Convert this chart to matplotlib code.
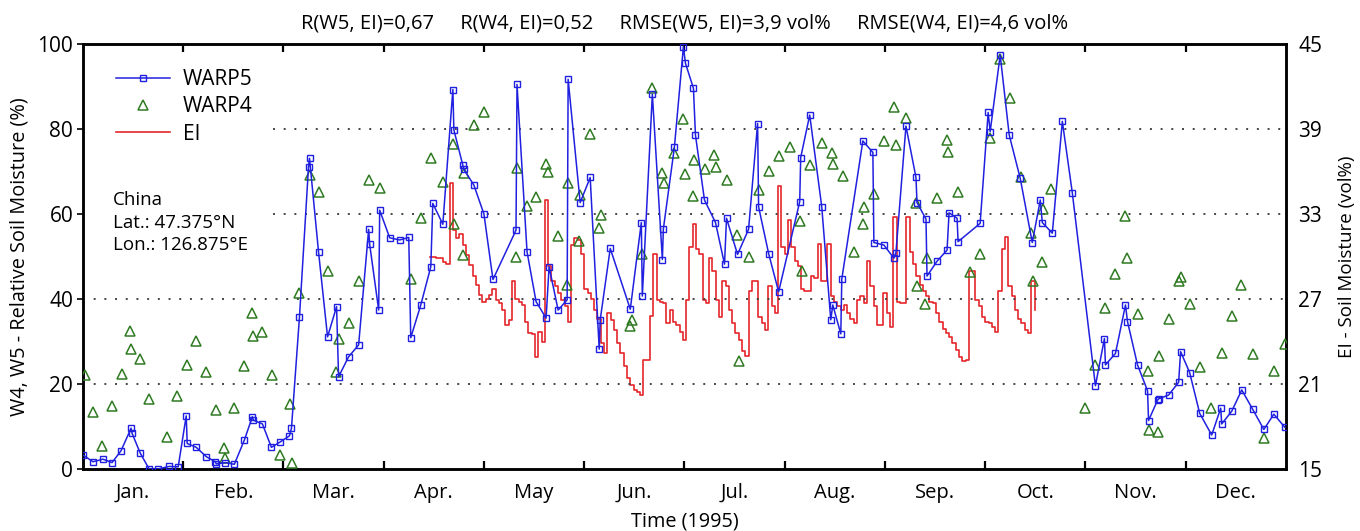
import numpy as np
import matplotlib
matplotlib.use("Agg")
import matplotlib.pyplot as plt
from matplotlib.lines import Line2D

plt.rcParams['font.family'] = ['Open Sans', 'DejaVu Sans']

months = ['Jan.', 'Feb.', 'Mar.', 'Apr.', 'May', 'Jun.', 'Jul.', 'Aug.', 'Sep.', 'Oct.', 'Nov.', 'Dec.']

# WARP5 relative soil moisture (%), time in months since 1 Jan
w5_t = [0.00, 0.10, 0.20, 0.29, 0.38, 0.48, 0.49, 0.57, 0.66, 0.75, 0.86, 0.95,
        1.03, 1.04, 1.13, 1.23, 1.32, 1.33, 1.42, 1.51, 1.61, 1.69, 1.70, 1.79, 1.88, 1.97,
        2.06, 2.08, 2.16, 2.25, 2.26, 2.35, 2.44, 2.53, 2.55, 2.65, 2.75, 2.85, 2.86, 2.95,
        2.96, 3.06, 3.16, 3.25, 3.27, 3.37, 3.47, 3.49, 3.59, 3.69, 3.70, 3.79, 3.80, 3.90,
        4.00, 4.09, 4.32, 4.33, 4.43, 4.52, 4.62, 4.65, 4.74, 4.83, 4.84, 4.96, 5.06, 5.15,
        5.16, 5.26, 5.46, 5.57, 5.58, 5.68, 5.78, 5.79, 5.90, 5.99, 6.01, 6.09, 6.11, 6.20,
        6.31, 6.40, 6.42, 6.53, 6.64, 6.73, 6.74, 6.84, 6.94, 7.15, 7.16, 7.25, 7.37, 7.46,
        7.48, 7.56, 7.57, 7.78, 7.88, 7.89, 7.99, 8.09, 8.11, 8.21, 8.31, 8.32, 8.41, 8.42,
        8.52, 8.62, 8.64, 8.72, 8.73, 8.95, 9.03, 9.05, 9.15, 9.24, 9.35, 9.47, 9.55, 9.57,
        9.67, 9.77, 9.87, 10.10, 10.19, 10.20, 10.30, 10.40, 10.42, 10.52, 10.62, 10.63,
        10.72, 10.73, 10.83, 10.93, 10.95, 11.04, 11.14, 11.26, 11.35, 11.36, 11.46, 11.56,
        11.67, 11.78, 11.88, 11.99]
w5_v = [3.3, 1.7, 2.3, 1.5, 4.3, 9.6, 8.4, 3.8, 0.0, 0.0, 0.6, 0.5,
        12.5, 6.0, 5.1, 2.9, 1.7, 1.2, 1.5, 1.1, 6.8, 12.3, 11.5, 10.6, 5.1, 6.4,
        7.8, 9.6, 35.8, 71.1, 73.1, 51.1, 31.1, 38.2, 21.7, 26.4, 29.2, 56.4, 52.9, 37.4,
        60.9, 54.4, 53.9, 54.5, 30.9, 38.6, 47.6, 62.5, 57.6, 89.3, 79.8, 71.5, 70.5, 66.8,
        60.0, 44.6, 56.2, 90.5, 51.1, 39.4, 35.5, 47.6, 37.4, 39.8, 91.7, 62.7, 68.6, 28.2,
        35.1, 51.9, 37.6, 58.0, 40.7, 88.2, 49.3, 56.5, 75.7, 99.4, 95.5, 89.6, 78.6, 63.3,
        58.0, 48.2, 59.0, 50.5, 56.4, 81.3, 61.7, 50.7, 41.7, 62.9, 73.3, 83.3, 61.7, 35.1,
        38.6, 31.8, 44.7, 77.2, 74.5, 53.3, 52.7, 49.6, 50.9, 80.7, 68.6, 62.7, 58.8, 45.4,
        48.9, 51.5, 60.3, 59.0, 53.5, 57.8, 83.9, 79.4, 97.4, 78.6, 68.4, 53.3, 63.3, 58.0,
        55.5, 81.8, 64.9, 19.6, 30.7, 24.5, 27.2, 38.6, 34.7, 24.5, 18.4, 11.4,
        16.2, 16.5, 17.4, 20.4, 27.6, 22.7, 13.1, 8.0, 14.3, 10.6, 13.6, 18.6,
        14.0, 9.3, 12.9, 9.8]

# WARP4 relative soil moisture (%)
w4_t = [0.02, 0.10, 0.19, 0.29, 0.39, 0.47, 0.48, 0.57, 0.66, 0.84, 0.94, 1.04, 1.13,
        1.23, 1.33, 1.41, 1.42, 1.51, 1.61, 1.69, 1.70, 1.79, 1.89, 1.97, 2.07, 2.09, 2.16,
        2.26, 2.35, 2.44, 2.52, 2.55, 2.65, 2.75, 2.85, 2.96, 3.27, 3.37, 3.47, 3.59, 3.69,
        3.70, 3.79, 3.80, 3.90, 4.00, 4.32, 4.33, 4.43, 4.52, 4.62, 4.64, 4.74, 4.83, 4.84,
        4.95, 4.96, 5.06, 5.15, 5.17, 5.46, 5.48, 5.58, 5.68, 5.78, 5.80, 5.90, 5.99, 6.01,
        6.09, 6.10, 6.21, 6.30, 6.32, 6.42, 6.52, 6.54, 6.64, 6.74, 6.84, 6.94, 7.05, 7.15,
        7.17, 7.25, 7.37, 7.47, 7.48, 7.58, 7.69, 7.78, 7.79, 7.89, 7.99, 8.09, 8.11, 8.21,
        8.31, 8.32, 8.40, 8.42, 8.52, 8.62, 8.63, 8.73, 8.85, 8.95, 9.05, 9.15, 9.25, 9.36,
        9.46, 9.48, 9.57, 9.58, 9.66, 10.00, 10.10, 10.20, 10.30, 10.40, 10.42, 10.52,
        10.62, 10.63, 10.72, 10.73, 10.83, 10.93, 10.95, 11.04, 11.14, 11.25, 11.36, 11.46,
        11.55, 11.67, 11.78, 11.88, 11.99]
w4_v = [22.1, 13.5, 5.4, 14.9, 22.3, 32.5, 28.2, 25.8, 16.4, 7.6, 17.2, 24.5, 30.1,
        22.9, 13.9, 4.9, 2.5, 14.4, 24.2, 36.8, 31.4, 32.2, 22.0, 3.3, 15.2, 1.3, 41.5,
        69.2, 65.3, 46.7, 22.9, 30.5, 34.3, 44.3, 68.0, 66.2, 44.6, 59.0, 73.1, 67.6, 76.4,
        57.6, 50.4, 69.7, 80.9, 84.1, 50.0, 70.9, 62.0, 63.9, 71.7, 70.0, 54.8, 43.3, 67.4,
        53.6, 64.5, 78.8, 56.8, 59.8, 33.6, 35.1, 50.5, 89.7, 69.7, 67.4, 74.3, 82.3, 69.4,
        64.2, 72.7, 70.5, 73.9, 71.1, 68.0, 55.1, 25.4, 50.0, 65.6, 70.2, 73.6, 75.7, 58.4,
        46.6, 71.5, 76.8, 74.4, 71.7, 68.9, 51.1, 57.6, 61.7, 64.7, 77.2, 85.1, 76.2, 82.5,
        62.5, 43.1, 38.8, 49.6, 63.8, 77.4, 74.7, 65.1, 46.4, 50.7, 78.0, 96.6, 87.2, 68.6,
        55.6, 44.3, 48.8, 61.3, 65.9, 14.4, 24.5, 37.8, 45.8, 59.6, 49.6, 36.5,
        23.1, 9.2, 8.8, 26.6, 35.3, 44.3, 45.1, 38.8, 24.1, 14.4, 27.2, 36.1,
        43.4, 27.0, 7.4, 23.1, 29.3]

# EI daily soil moisture (vol%), first day and daily values
ei_start = 3.46
ei_v = [30.0, 30.0, 29.9, 29.9, 29.6, 29.5, 35.2, 31.9, 31.3, 31.6, 30.8, 30.1, 29.4, 28.6,
        28.0, 27.3, 26.8, 27.0, 27.3, 27.7, 26.9, 26.7, 26.2, 25.2, 25.5, 28.3, 27.0, 26.8,
        26.6, 25.4, 24.6, 24.5, 22.9, 24.7, 24.0, 34.0, 29.3, 28.3, 27.9, 27.4, 26.9, 26.5,
        25.4, 30.8, 31.3, 31.2, 30.2, 27.7, 27.4, 27.0, 26.2, 25.6, 23.9, 23.2, 26.0, 25.5,
        24.8, 23.9, 23.2, 22.3, 21.4, 20.9, 20.6, 20.4, 20.2, 22.7, 22.7, 25.8, 30.2, 26.9,
        26.8, 26.7, 25.3, 26.2, 25.4, 25.2, 24.7, 24.1, 26.9, 30.7, 32.3, 30.5, 30.2, 26.9,
        26.7, 29.9, 29.0, 26.9, 25.7, 28.3, 27.9, 26.2, 25.3, 24.6, 24.1, 23.3, 23.0, 27.6,
        28.3, 28.3, 25.7, 25.3, 24.8, 27.9, 26.5, 26.0, 35.0, 30.7, 30.2, 32.6, 30.7, 29.7,
        29.3, 27.7, 27.6, 27.6, 28.6, 28.5, 30.9, 28.3, 28.3, 30.9, 27.2, 26.8, 26.5, 26.2,
        26.6, 26.0, 25.6, 25.3, 26.9, 27.2, 26.7, 29.7, 27.9, 26.5, 25.2, 25.2, 27.4, 26.0,
        25.0, 32.8, 26.8, 26.7, 26.7, 32.8, 30.3, 29.5, 28.6, 28.0, 27.6, 27.2, 26.8, 26.7,
        26.0, 25.4, 24.9, 24.6, 24.3, 23.9, 23.4, 22.9, 22.6, 22.7, 29.0, 29.0, 26.9, 26.5,
        25.7, 25.4, 25.3, 25.0, 24.7, 27.6, 30.5, 31.4, 27.9, 27.2, 26.2, 25.6, 25.3, 24.8,
        24.6, 28.3, 26.2]
ei_t = ei_start + np.arange(len(ei_v)) / 30.5

fig = plt.figure(figsize=(13.6, 5.31), dpi=100)
ax = fig.add_axes([0.061, 0.1168, 0.8845, 0.8002])
ax2 = ax.twinx()

# dotted reference levels (upper ones start right of the annotation box)
dot = dict(color='#444444', lw=1.4, ls=(0, (1, 4.5)), zorder=0)
for lev in (20, 40):
    ax.plot([0, 12], [lev, lev], **dot)
for lev in (60, 80):
    ax.plot([1.9, 12], [lev, lev], **dot)

ax2.plot(ei_t, ei_v, color='#e5262b', lw=1.2, drawstyle='steps-post', zorder=2)
ax.plot(w4_t, w4_v, ls='none', marker='^', ms=6.5, mfc='none', mec='#2f7a22', mew=1.1,
        label='WARP4', zorder=3)
ax.plot(w5_t, w5_v, color='#2020e0', lw=1.1, marker='s', ms=4.5, mfc='none', mec='#2020e0',
        mew=1.0, label='WARP5', zorder=4)

ax.set_zorder(ax2.get_zorder() + 1)
ax.patch.set_visible(False)

ax.set_xlim(0, 12)
ax.set_ylim(0, 100)
ax2.set_ylim(15, 45)

ax.set_xticks(range(1, 12))
ax.set_xticklabels([])
ax.set_xticks(np.arange(0.5, 12), minor=True)
ax.set_xticklabels(months, minor=True)
ax.tick_params(axis='x', which='major', direction='in', length=6, width=1.6, top=True)
ax.tick_params(axis='x', which='minor', length=0, labelsize=14.5, pad=10)
ax.set_yticks([0, 20, 40, 60, 80, 100])
ax.tick_params(axis='y', direction='out', length=4, width=1.2, labelsize=15, pad=3)
ax2.set_yticks([15, 21, 27, 33, 39, 45])
ax2.tick_params(axis='y', direction='out', length=0, labelsize=15, pad=9)

for a in (ax, ax2):
    for s in a.spines.values():
        s.set_linewidth(1.8)

ax.set_ylabel('W4, W5 - Relative Soil Moisture (%)', fontsize=14.3, labelpad=6)
ax2.set_ylabel('EI - Soil Moisture (vol%)', fontsize=13.5, labelpad=11)
ax.set_xlabel('Time (1995)', fontsize=14.3, labelpad=6)

handles = [Line2D([], [], color='#2020e0', lw=1.1, marker='s', ms=4.5, mfc='none', mec='#2020e0'),
           Line2D([], [], ls='none', marker='^', ms=6.5, mfc='none', mec='#2f7a22', mew=1.1),
           Line2D([], [], color='#e5262b', lw=1.2)]
ax.legend(handles, ['WARP5', 'WARP4', 'EI'], loc='upper left', bbox_to_anchor=(0.012, 0.985),
          frameon=False, fontsize=15, handlelength=2.6, handletextpad=0.6, labelspacing=0.3)

ax.text(0.30, 58, 'China\nLat.: 47.375°N\nLon.: 126.875°E', fontsize=13.5, va='center',
        ha='left', linespacing=1.3)

fig.text(0.503, 0.955, 'R(W5, EI)=0,67     R(W4, EI)=0,52     RMSE(W5, EI)=3,9 vol%     '
         'RMSE(W4, EI)=4,6 vol%', ha='center', va='center', fontsize=14.5)

fig.savefig('out.png', dpi=100)
